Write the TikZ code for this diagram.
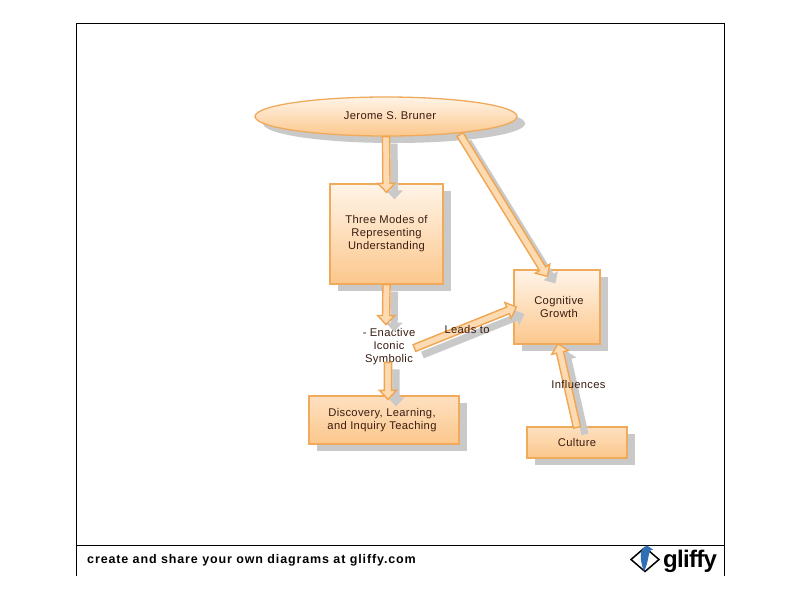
\documentclass[tikz,border=0pt]{standalone}
\usepackage{fontspec}
\setmainfont{Liberation Sans}
\usetikzlibrary{calc,shapes.geometric,shadows}
\definecolor{edge}{HTML}{EFAA5C}
\definecolor{arrowedge}{HTML}{F0A552}
\definecolor{peachtop}{HTML}{FFF4E8}
\definecolor{peachbot}{HTML}{FCC78C}
\definecolor{peachmid}{HTML}{FDE0C0}
\definecolor{dropgrey}{HTML}{C9C9C9}
\definecolor{ink}{HTML}{3A1C10}
\definecolor{shaft}{HTML}{FDDBB2}
\definecolor{swoosh}{HTML}{2F6FB5}
\tikzset{
  x=1pt,y=-1pt,
  drop/.style={general shadow={shadow xshift=8pt,shadow yshift=-7pt,fill=dropgrey}},
  labelfont/.style={font=\fontsize{11.2}{13}\selectfont\addfontfeature{LetterSpace=3}},
  shapebox/.style={draw=edge,line width=1.3pt,inner sep=0pt,align=center,text=ink,labelfont,drop},
  tall/.style={shapebox,top color=peachtop,bottom color=peachbot},
  flat/.style={shapebox,top color=peachmid,bottom color=peachbot},
  lbl/.style={text=ink,align=center,inner sep=0pt,labelfont},
  frameline/.style={draw=black,line width=0.8pt},
}
\newcommand{\arrowoutline}{(0pt,-3.6pt) -- (\n2-9pt,-3.6pt) -- (\n2-9pt,-8.5pt) -- (\n2,0pt) -- (\n2-9pt,8.5pt) -- (\n2-9pt,3.6pt) -- (0pt,3.6pt) -- cycle}
\newcommand{\blockarrow}[2]{%
  \fill[dropgrey] let \p1=(#1),\p2=(#2),\n1={atan2(\y2-\y1,\x2-\x1)},\n2={veclen(\x2-\x1,\y2-\y1)} in
   {[shift={(\x1+8pt,\y1-7pt)},rotate=\n1] \arrowoutline};
  \filldraw[fill=shaft,draw=arrowedge,line width=1.4pt,line join=miter] let \p1=(#1),\p2=(#2),\n1={atan2(\y2-\y1,\x2-\x1)},\n2={veclen(\x2-\x1,\y2-\y1)} in
   {[shift={(\x1,\y1)},rotate=\n1] \arrowoutline};
}
\begin{document}
\begin{tikzpicture}
\useasboundingbox[fill=white] (0,0) rectangle (800,600);
% frame
\draw[frameline] (76.5,576) -- (76.5,23.5) -- (724.5,23.5) -- (724.5,576);
\draw[frameline] (76.5,545.5) -- (724.5,545.5);
% nodes
\node[tall,ellipse,minimum width=262pt,minimum height=39pt] (bruner) at (386,116.5) {\hspace*{8pt}\raisebox{1pt}{Jerome S. Bruner}};
\node[tall,minimum width=113pt,minimum height=100pt] (modes) at (386.5,234) {Three Modes of\\Representing\\Understanding};
\node[tall,minimum width=86pt,minimum height=74pt] (growth) at (557,307) {\hspace*{4pt}Cognitive\\\hspace*{4pt}Growth};
\node[flat,minimum width=150pt,minimum height=48pt] (discovery) at (384,420) {\hspace*{-4pt}Discovery, Learning,\\\hspace*{-4pt}and Inquiry Teaching};
\node[flat,minimum width=100pt,minimum height=31pt] (culture) at (577,442.5) {Culture};
\node[lbl] (modelist) at (389,347) {- Enactive\\Iconic\\Symbolic};
% connectors
\blockarrow{bruner.south}{$(modes.north)+(0,9)$}
\blockarrow{$(bruner.center)+(74,18)$}{$(growth.north west)+(34,7)$}
\blockarrow{modes.south}{$(modelist.north)+(-3,-4)$}
\blockarrow{$(modelist.east)+(-1,1)$}{$(growth.west)+(3,0)$}
\blockarrow{$(modelist.south)+(-1,-3)$}{$(discovery.north)+(4,4)$}
\blockarrow{$(culture.north)+(0,1)$}{$(growth.south)+(1,-1)$}
% labels on the connectors
\node[lbl] (leads) at (467,329) {Leads to};
\node[lbl] (influences) at (578.5,384) {Influences};
% footer
\node[anchor=west,inner sep=0pt,font=\bfseries\fontsize{12.5}{14}\selectfont,text=black] (credit) at (87,560) {\addfontfeature{LetterSpace=7}create and share your own diagrams at gliffy.com};
\node[anchor=west,inner sep=0pt,font=\bfseries\fontsize{24}{26}\selectfont,text=black] (logotext) at (663,561) {\addfontfeature{LetterSpace=-3}gliffy};
\coordinate (dia) at (645,559.5);
\draw[line width=1.5pt,black] ($(dia)+(-14,0)$) -- ($(dia)+(0,-12)$) -- ($(dia)+(14,0)$) -- ($(dia)+(0,12)$) -- cycle;
\fill[swoosh] ($(dia)+(-1,12)$) .. controls ($(dia)+(-7,-4)$) and ($(dia)+(-4,-12)$) .. ($(dia)+(2,-14)$) -- ($(dia)+(8,-10)$) -- ($(dia)+(5,-9)$) .. controls ($(dia)+(3,-3)$) and ($(dia)+(3,4)$) .. ($(dia)+(-1,12)$) -- cycle;
\end{tikzpicture}
\end{document}
